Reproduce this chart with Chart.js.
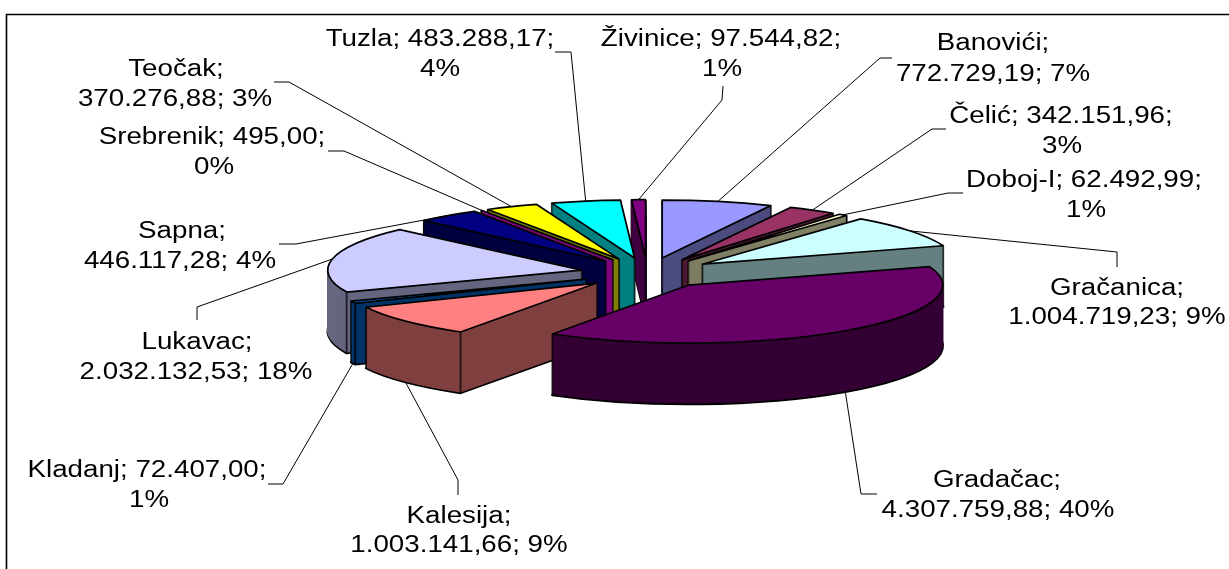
<!DOCTYPE html>
<html>
<head>
<meta charset="utf-8">
<style>
  html, body { margin: 0; background: #fff; }
  canvas { display: block; }
</style>
<script src="https://cdn.jsdelivr.net/npm/chart.js@4"></script>
</head>
<body>
<canvas id="pie3d" width="1229" height="569"></canvas>
<script>
// Data
const categories = ['Banovići', 'Čelić', 'Doboj-I', 'Gračanica', 'Gradačac', 'Kalesija', 'Kladanj',
  'Lukavac', 'Sapna', 'Srebrenik', 'Teočak', 'Tuzla', 'Živinice'];
const values = [772729.19, 342151.96, 62492.99, 1004719.23, 4307759.88, 1003141.66, 72407.00,
  2032132.53, 446117.28, 495.00, 370276.88, 483288.17, 97544.82];
const percents = [7, 3, 1, 9, 40, 9, 1, 18, 4, 0, 3, 4, 1];
const topColors = ['#9999FF', '#993366', '#FFFFCC', '#CCFFFF', '#660066', '#FF8080', '#0066CC',
  '#CCCCFF', '#000080', '#FF00FF', '#FFFF00', '#00FFFF', '#800080'];
const wallColors = ['#4C4C80', '#4C1933', '#808066', '#668080', '#330033', '#804040', '#003366',
  '#666680', '#000040', '#800080', '#808000', '#008080', '#400040'];

// Label placement: split = line break after name or after value, lines = [centre x, baseline], elbow = leader bend
const labelLayout = [
  { split: 'name', lines: [[993, 50], [993, 81]], elbow: [[892, 58], [880, 58]] },
  { split: 'value', lines: [[1061, 123], [1062, 153]], elbow: [[946, 129], [932, 129]] },
  { split: 'value', lines: [[1084, 187], [1086, 217]], elbow: [[963, 193], [948, 193]] },
  { split: 'name', lines: [[1117, 295], [1117, 324]], elbow: [[1117, 267], [1117, 252]] },
  { split: 'name', lines: [[997, 487], [998, 517]], elbow: [[877, 494], [861, 494]] },
  { split: 'name', lines: [[459, 523], [459, 552]], elbow: [[458, 495], [458, 480]] },
  { split: 'value', lines: [[147, 477], [149, 507]], elbow: [[268, 484], [283, 484]] },
  { split: 'name', lines: [[197, 349], [196, 379]], elbow: [[197, 320], [197, 307]] },
  { split: 'name', lines: [[182, 238], [180, 268]], elbow: [[279, 244], [296, 244]] },
  { split: 'value', lines: [[212, 144], [214, 174]], elbow: [[328, 151], [344, 151]] },
  { split: 'name', lines: [[176, 76], [175, 106]], elbow: [[274, 82], [289, 82]] },
  { split: 'value', lines: [[440, 46], [440, 76]], elbow: [[555, 52], [571, 52]] },
  { split: 'value', lines: [[721, 46], [722, 76]], elbow: [[723, 86], [722, 100]] }
];

// View of the tilted pie, in screen pixels
const view = { cx: 647.5, cy: 273, rx: 254, ry: 58, depth: 61, explode: 0.264 };

function labelLines(i) {
  const num = values[i].toLocaleString('de-DE', { minimumFractionDigits: 2, maximumFractionDigits: 2 });
  if (labelLayout[i].split === 'name') return [categories[i] + ';', num + '; ' + percents[i] + '%'];
  return [categories[i] + '; ' + num + ';', percents[i] + '%'];
}

// screen position of a rim point of slice el, r is 0 at the apex and 1 on the rim
function rimPoint(el, angle, r, z) {
  const mid = (el.startAngle + el.endAngle) / 2;
  return {
    x: view.cx + view.rx * (Math.cos(mid) * view.explode + Math.cos(angle) * r),
    y: view.cy + view.ry * (Math.sin(mid) * view.explode + Math.sin(angle) * r) + z
  };
}

function drawSlice(chart, el, z, fill, stroke, width) {
  const ctx = chart.ctx;
  const mid = (el.startAngle + el.endAngle) / 2;
  const R = el.outerRadius;
  const saved = el.options;
  el.options = {
    offset: 0, spacing: 0, circular: true, borderAlign: 'center', borderRadius: 0,
    backgroundColor: fill, borderColor: stroke, borderWidth: width, borderJoinStyle: 'round'
  };
  ctx.save();
  ctx.translate(view.cx, view.cy + z);
  ctx.scale(view.rx / R, view.ry / R);
  ctx.translate(Math.cos(mid) * view.explode * R - el.x, Math.sin(mid) * view.explode * R - el.y);
  el.draw(ctx);
  ctx.restore();
  el.options = saved;
}

const pie3d = {
  id: 'pie3d',
  beforeDatasetDraw(chart, args) {
    const ctx = chart.ctx;
    const arcs = args.meta.data;
    // strokes stay even: the path is already squashed when it is stroked
    const nativeStroke = ctx.stroke;
    ctx.stroke = function () {
      ctx.save();
      ctx.setTransform(1, 0, 0, 1, 0, 0);
      nativeStroke.call(ctx);
      ctx.restore();
    };

    // walls: stack of layers from the bottom up, so nearer parts cover farther ones
    for (let z = view.depth; z > 0; z--) {
      arcs.forEach((el, i) => {
        const bottom = z === view.depth;
        drawSlice(chart, el, z, wallColors[i], bottom ? '#000' : wallColors[i], bottom ? 2.4 : 1);
      });
      ctx.fillStyle = '#000';
      arcs.forEach(el => {
        [rimPoint(el, el.startAngle, 1, z), rimPoint(el, el.endAngle, 1, z), rimPoint(el, 0, 0, z)].forEach(p => {
          ctx.fillRect(p.x - 0.9, p.y - 0.5, 1.8, 1);
        });
      });
    }
    // top faces
    arcs.forEach((el, i) => drawSlice(chart, el, 0, topColors[i], '#000', 1.7));

    delete ctx.stroke;
    return false;
  },
  afterDraw(chart) {
    const ctx = chart.ctx;
    const arcs = chart.getDatasetMeta(0).data;

    // frame, open to the right and bottom
    ctx.strokeStyle = '#000';
    ctx.lineWidth = 1.6;
    ctx.beginPath();
    ctx.moveTo(6.5, 569);
    ctx.lineTo(6.5, 14.5);
    ctx.lineTo(1229, 14.5);
    ctx.stroke();

    // leader lines
    ctx.lineWidth = 1;
    arcs.forEach((el, i) => {
      const mid = (el.startAngle + el.endAngle) / 2;
      const end = rimPoint(el, mid, 1, Math.sin(mid) > 0 ? view.depth : 0);
      ctx.beginPath();
      ctx.moveTo(labelLayout[i].elbow[0][0], labelLayout[i].elbow[0][1]);
      ctx.lineTo(labelLayout[i].elbow[1][0], labelLayout[i].elbow[1][1]);
      ctx.lineTo(end.x, end.y);
      ctx.stroke();
    });

    // labels, wide like the stretched original
    ctx.fillStyle = '#000';
    ctx.font = '23.3px "Liberation Sans", Arial, sans-serif';
    ctx.textAlign = 'center';
    ctx.textBaseline = 'alphabetic';
    categories.forEach((name, i) => {
      labelLines(i).forEach((text, j) => {
        const pos = labelLayout[i].lines[j];
        ctx.save();
        ctx.translate(pos[0], pos[1]);
        ctx.scale(1.19, 1);
        ctx.fillText(text, 0, 0);
        ctx.restore();
      });
    });
  }
};

new Chart(document.getElementById('pie3d').getContext('2d'), {
  type: 'pie',
  data: {
    labels: categories,
    datasets: [{ data: values, backgroundColor: topColors }]
  },
  options: {
    responsive: false,
    animation: false,
    plugins: { legend: { display: false }, tooltip: { enabled: false } }
  },
  plugins: [pie3d]
});
</script>
</body>
</html>
